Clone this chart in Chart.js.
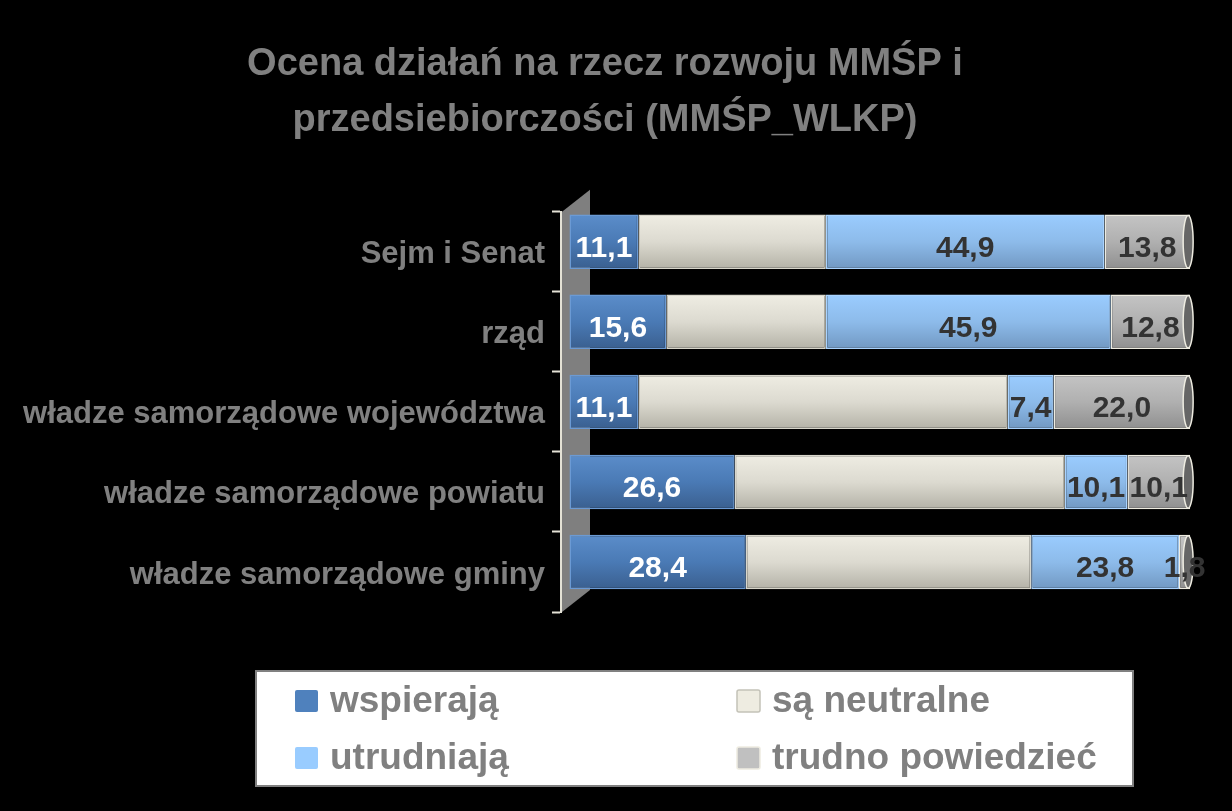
<!DOCTYPE html>
<html>
<head>
<meta charset="utf-8">
<script src="https://cdn.jsdelivr.net/npm/chart.js@4.4.0/dist/chart.umd.min.js"></script>
<style>
  html, body { margin: 0; padding: 0; background: #000; }
  #wrap { width: 1232px; height: 811px; position: relative; }
</style>
</head>
<body>
<div id="wrap"><canvas id="c" width="1232" height="811"></canvas></div>
<script>
// ---- data ----
const titleLines = ['Ocena działań na rzecz rozwoju MMŚP i', 'przedsiebiorczości (MMŚP_WLKP)'];
const categories = ['Sejm i Senat', 'rząd', 'władze samorządowe województwa', 'władze samorządowe powiatu', 'władze samorządowe gminy'];
const seriesNames = ['wspierają', 'są neutralne', 'utrudniają', 'trudno powiedzieć'];
const wspieraja = [11.1, 15.6, 11.1, 26.6, 28.4];
const neutralne = [30.2, 25.7, 59.5, 53.2, 46.0];
const utrudniaja = [44.9, 45.9, 7.4, 10.1, 23.8];
const trudno = [13.8, 12.8, 22.0, 10.1, 1.8];

// ---- styling ----
const FONT = '"Liberation Sans", Arial, sans-serif';
const GRAY_TEXT = '#808080';
const baseColors = ['#4f81bd', '#eeece1', '#99ccff', '#c0c0c0'];
const gradStops = [
  ['#5b8dca', '#4a7ab5', '#3a5f8f'],
  ['#efede3', '#dcdad0', '#b4b2a7'],
  ['#9accff', '#8dbbea', '#7198c2'],
  ['#c4c4c4', '#b0b0b0', '#8f8f8f']
];
const borderColors = ['#6b9ad4', '#d8d6cb', '#a9d3ff', '#eeece1'];
const labelColors = ['#ffffff', null, '#333333', '#333333'];
const BAR_PCT = 0.68;
const DEPTH = 10; // 3D perspective lift of the bars

function gradientFor(i) {
  return function (c) {
    const chart = c.chart;
    const ys = chart.scales && chart.scales.y;
    if (c.type !== 'data' || !ys || !chart.chartArea) return baseColors[i];
    const center = ys.getPixelForValue(c.dataIndex);
    const step = Math.abs(ys.getPixelForValue(1) - ys.getPixelForValue(0));
    const h = step * BAR_PCT;
    const g = chart.ctx.createLinearGradient(0, center - h / 2, 0, center + h / 2);
    const s = gradStops[i];
    g.addColorStop(0, s[0]);
    g.addColorStop(0.5, s[1]);
    g.addColorStop(1, s[2]);
    return g;
  };
}

const seriesData = [wspieraja, neutralne, utrudniaja, trudno];
const datasets = seriesNames.map((name, i) => ({
  label: name,
  data: seriesData[i],
  backgroundColor: gradientFor(i),
  borderColor: borderColors[i],
  borderWidth: 1.5,
  borderSkipped: false,
  barPercentage: BAR_PCT,
  categoryPercentage: 1.0
}));

// gray 3D side wall behind the bars
const wallPlugin = {
  id: 'wall',
  beforeDatasetsDraw(chart) {
    const { ctx, chartArea: a } = chart;
    const x0 = a.left + 1, x1 = a.left + 29, d = 22;
    ctx.save();
    ctx.beginPath();
    ctx.moveTo(x0, a.top);
    ctx.lineTo(x1, a.top - d);
    ctx.lineTo(x1, a.bottom - d);
    ctx.lineTo(x0, a.bottom);
    ctx.closePath();
    ctx.fillStyle = '#7f7f7f';
    ctx.fill();
    ctx.restore();
  }
};

// 3D lift, end caps + data labels
const bars3dPlugin = {
  id: 'bars3d',
  beforeDatasetsDraw(chart) {
    chart.ctx.save();
    chart.ctx.translate(0, -DEPTH);
  },
  afterDatasetsDraw(chart) {
    const { ctx } = chart;
    const xs = chart.scales.x;
    const last = chart.getDatasetMeta(chart.data.datasets.length - 1);
    last.data.forEach((el) => {
      const xe = xs.getPixelForValue(100) - 2;
      const h = el.height;
      ctx.save();
      ctx.beginPath();
      ctx.ellipse(xe, el.y, 5, h / 2 - 1, 0, 0, Math.PI * 2);
      ctx.fillStyle = '#666666';
      ctx.fill();
      ctx.lineWidth = 1.5;
      ctx.strokeStyle = '#eeece1';
      ctx.stroke();
      ctx.restore();
    });
    chart.data.datasets.forEach((ds, di) => {
      const col = labelColors[di];
      if (!col) return;
      const meta = chart.getDatasetMeta(di);
      meta.data.forEach((el, i) => {
        const v = ds.data[i];
        const txt = v.toFixed(1).replace('.', ',');
        const cx = (el.x + el.base) / 2;
        ctx.save();
        ctx.font = 'bold 30px ' + FONT;
        ctx.fillStyle = col;
        ctx.textAlign = 'center';
        ctx.textBaseline = 'middle';
        ctx.fillText(txt, cx, el.y + 7);
        ctx.restore();
      });
    });
    ctx.restore();
  }
};

// boxed two-column legend at the bottom
const boxLegendPlugin = {
  id: 'boxLegend',
  afterDraw(chart, args, opts) {
    const { ctx } = chart;
    ctx.save();
    ctx.fillStyle = '#ffffff';
    ctx.fillRect(opts.left, opts.top, opts.width, opts.height);
    ctx.lineWidth = 2;
    ctx.strokeStyle = '#808080';
    ctx.strokeRect(opts.left, opts.top, opts.width, opts.height);
    chart.data.datasets.forEach((ds, i) => {
      const col = i % 2, row = Math.floor(i / 2);
      const mx = opts.colX[col], my = opts.rowY[row];
      ctx.fillStyle = baseColors[i];
      ctx.beginPath();
      ctx.roundRect(mx, my - 11, 23, 22, 2);
      ctx.fill();
      if (i === 1) { ctx.lineWidth = 1.5; ctx.strokeStyle = '#c4c2b8'; ctx.stroke(); }
      if (i === 3) { ctx.lineWidth = 1.5; ctx.strokeStyle = '#eeece1'; ctx.stroke(); }
      ctx.font = 'bold 37px ' + FONT;
      ctx.fillStyle = GRAY_TEXT;
      ctx.textAlign = 'left';
      ctx.textBaseline = 'middle';
      ctx.fillText(ds.label, mx + 35, my + 1);
    });
    ctx.restore();
  }
};

Chart.defaults.font.family = FONT;

new Chart(document.getElementById('c'), {
  type: 'bar',
  data: { labels: categories, datasets },
  options: {
    indexAxis: 'y',
    responsive: false,
    animation: false,
    maintainAspectRatio: false,
    layout: { padding: { left: 0, right: 22, top: 0, bottom: 199 } },
    scales: {
      x: {
        stacked: true,
        display: false,
        min: -1.37,
        max: 103.2
      },
      y: {
        stacked: true,
        afterFit(scale) { scale.width = 561; },
        grid: {
          offset: true,
          drawOnChartArea: false,
          drawTicks: true,
          tickLength: 9,
          tickWidth: 2,
          color: '#e4e2d6'
        },
        border: { display: true, color: '#e4e2d6', width: 2 },
        ticks: {
          color: GRAY_TEXT,
          padding: 7,
          labelOffset: 3,
          font: { size: 31, weight: 'bold', family: FONT }
        }
      }
    },
    plugins: {
      legend: { display: false },
      tooltip: { enabled: false },
      title: {
        display: true,
        text: titleLines,
        color: GRAY_TEXT,
        font: { size: 38, weight: 'bold', family: FONT, lineHeight: 1.47 },
        padding: { top: 37, bottom: 63 }
      },
      boxLegend: {
        left: 256, top: 671, width: 877, height: 115,
        colX: [295, 737],
        rowY: [701, 758]
      }
    }
  },
  plugins: [wallPlugin, bars3dPlugin, boxLegendPlugin]
});
</script>
</body>
</html>
